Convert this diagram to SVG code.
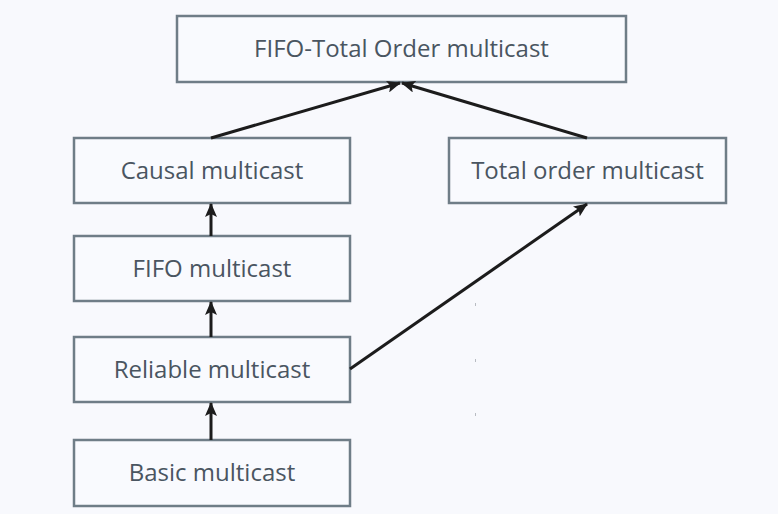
<svg xmlns="http://www.w3.org/2000/svg" width="778" height="514" viewBox="0 0 778 514">
<defs>
<style>
.box{fill:#f9fafe;stroke:#6f7d87;stroke-width:2.5}
.lbl{font-family:"Open Sans","Liberation Sans",sans-serif;font-size:24px;fill:#4a5561;text-anchor:middle}
.edge{stroke:#1c1c1c;stroke-width:3;fill:none}
.tick{stroke:#b8bcc2;stroke-width:1}
</style>
<marker id="ah" markerWidth="14" markerHeight="12" refX="13" refY="6" orient="auto" markerUnits="userSpaceOnUse">
<path d="M0,0 L14,6 L0,12 L3,6 z" fill="#1c1c1c"/>
</marker>
</defs>
<rect width="778" height="514" fill="#f8f9fd"/>
<g id="n-fifo-total">
<rect class="box" x="177" y="16" width="449" height="66"/>
<text class="lbl" x="401.5" y="57">FIFO-Total Order multicast</text>
</g>
<g id="n-causal">
<rect class="box" x="74" y="138" width="276" height="65"/>
<text class="lbl" x="212" y="179">Causal multicast</text>
</g>
<g id="n-total">
<rect class="box" x="449" y="138" width="277" height="65"/>
<text class="lbl" x="587.5" y="179">Total order multicast</text>
</g>
<g id="n-fifo">
<rect class="box" x="74" y="236" width="276" height="65"/>
<text class="lbl" x="212" y="277">FIFO multicast</text>
</g>
<g id="n-reliable">
<rect class="box" x="74" y="337" width="276" height="65"/>
<text class="lbl" x="212" y="378">Reliable multicast</text>
</g>
<g id="n-basic">
<rect class="box" x="74" y="440" width="276" height="66"/>
<text class="lbl" x="212" y="481">Basic multicast</text>
</g>
<g id="edges">
<line class="edge" x1="211" y1="138" x2="400" y2="83" marker-end="url(#ah)"/>
<line class="edge" x1="587" y1="138" x2="402" y2="83" marker-end="url(#ah)"/>
<line class="edge" x1="211" y1="236" x2="211" y2="204" marker-end="url(#ah)"/>
<line class="edge" x1="211" y1="337" x2="211" y2="302" marker-end="url(#ah)"/>
<line class="edge" x1="211" y1="440" x2="211" y2="403" marker-end="url(#ah)"/>
<line class="edge" x1="350" y1="369" x2="587" y2="204" marker-end="url(#ah)"/>
</g>
<g id="ticks">
<line class="tick" x1="475.5" y1="303" x2="475.5" y2="306"/>
<line class="tick" x1="475.5" y1="359" x2="475.5" y2="362"/>
<line class="tick" x1="475.5" y1="413" x2="475.5" y2="416"/>
</g>
</svg>
